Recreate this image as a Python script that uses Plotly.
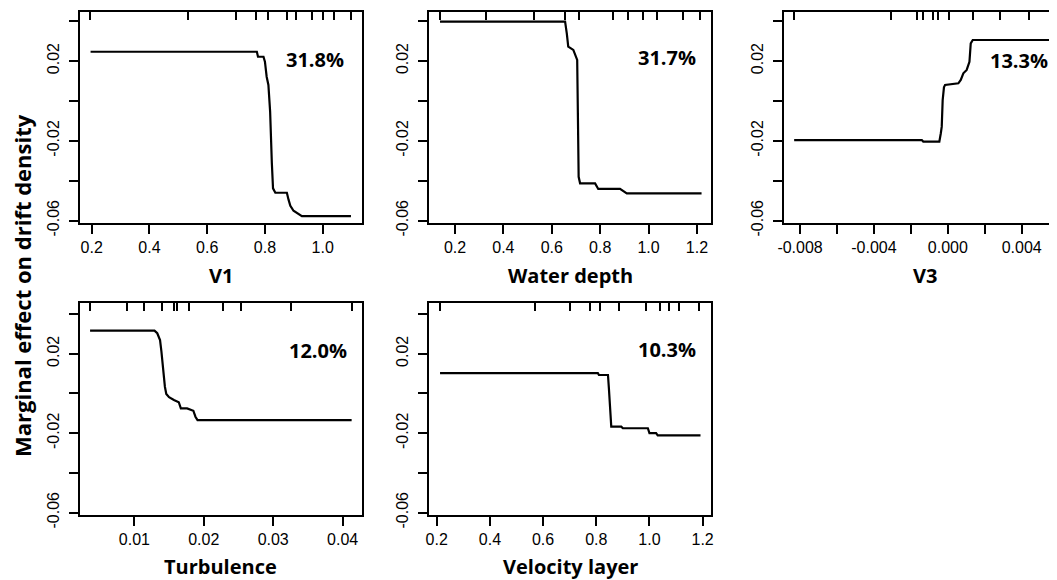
import plotly.graph_objects as go

# The page body adds an 8 px margin, so the figure is 8 px smaller and
# all positions below are given in page pixels.
OFF = 8
W, H = 1057 - OFF, 580 - OFF

# ---------------- data ----------------
v1_x = [0.196, 0.772, 0.776, 0.795, 0.800, 0.806, 0.812, 0.818, 0.824, 0.828, 0.836,
        0.876, 0.882, 0.888, 0.899, 0.917, 0.928, 1.098]
v1_y = [0.0246, 0.0246, 0.0221, 0.0221, 0.0196, 0.0121, 0.0080, -0.0054, -0.0313, -0.0438,
        -0.0460, -0.0460, -0.0496, -0.0525, -0.0550, -0.0568, -0.0577, -0.0577]
v1_rug = [0.1955, 0.534, 0.699, 0.768, 0.809, 0.878, 0.908, 0.963, 1.000, 1.040, 1.098]

wd_x = [0.138, 0.655, 0.662, 0.668, 0.689, 0.705, 0.708, 0.711, 0.717, 0.779, 0.792,
        0.882, 0.910, 1.219]
wd_y = [0.0397, 0.0397, 0.0338, 0.0272, 0.0255, 0.0205, -0.0081, -0.0380, -0.0413, -0.0413,
        -0.0441, -0.0441, -0.0463, -0.0463]
wd_rug = [0.138, 0.328, 0.525, 0.655, 0.714, 0.852, 0.914, 0.976, 1.033, 1.143, 1.211]

v3_x = [-0.00832, -0.00141, -0.00133, -0.00046, -0.00038, -0.00033, -0.00028, -0.00021,
        -0.00015, 0.00057, 0.00070, 0.00084, 0.00102, 0.00117, 0.00124, 0.00135, 0.00580]
v3_y = [-0.0196, -0.0196, -0.0204, -0.0204, -0.0162, -0.0129, 0.0004, 0.0068,
        0.0080, 0.0088, 0.0105, 0.0138, 0.0155, 0.0196, 0.0288, 0.0305, 0.0305]
v3_rug = [-0.00832, -0.00309, -0.00168, -0.00136, -0.00078, -0.00051, 0.00007,
          0.00138, 0.00283, 0.00441, 0.00580]

tu_x = [0.00362, 0.0129, 0.0133, 0.0137, 0.0139, 0.0142, 0.0144, 0.0146, 0.0150, 0.0157,
        0.0164, 0.0167, 0.0176, 0.0185, 0.0188, 0.0191, 0.0413]
tu_y = [0.0316, 0.0316, 0.0303, 0.0269, 0.0210, 0.0102, 0.0034, -0.0003, -0.0019, -0.0033,
        -0.0044, -0.0075, -0.0075, -0.0087, -0.0117, -0.0134, -0.0134]
tu_rug = [0.00362, 0.00894, 0.01135, 0.01391, 0.0157, 0.01618, 0.01787, 0.02271,
          0.02536, 0.03261, 0.0413]

vl_x = [0.2124, 0.806, 0.810, 0.844, 0.8475, 0.8527, 0.8564, 0.894, 0.900, 0.994, 1.000,
        1.025, 1.031, 1.192]
vl_y = [0.0102, 0.0102, 0.0093, 0.0093, 0.0026, -0.0108, -0.0167, -0.0167, -0.0175, -0.0175,
        -0.0200, -0.0200, -0.0211, -0.0211]
vl_rug = [0.2124, 0.571, 0.700, 0.775, 0.813, 0.884, 0.988, 1.038, 1.075, 1.110, 1.187]

names = ["V1", "Water depth", "V3", "Turbulence", "Velocity layer"]
importance = ["31.8%", "31.7%", "13.3%", "12.0%", "10.3%"]

y_ticks = [-0.06, -0.04, -0.02, 0.0, 0.02, 0.04]
y_labels = ["-0.06", "", "-0.02", "", "0.02", ""]

x_ticks = [
    [0.2, 0.4, 0.6, 0.8, 1.0],
    [0.2, 0.4, 0.6, 0.8, 1.0, 1.2],
    [-0.008, -0.006, -0.004, -0.002, 0.0, 0.002, 0.004, 0.006],
    [0.01, 0.02, 0.03, 0.04],
    [0.2, 0.4, 0.6, 0.8, 1.0, 1.2],
]
x_labels = [
    ["0.2", "0.4", "0.6", "0.8", "1.0"],
    ["0.2", "0.4", "0.6", "0.8", "1.0", "1.2"],
    ["-0.008", "", "-0.004", "", "0.000", "", "0.004", ""],
    ["0.01", "0.02", "0.03", "0.04"],
    ["0.2", "0.4", "0.6", "0.8", "1.0", "1.2"],
]

curves = [(v1_x, v1_y), (wd_x, wd_y), (v3_x, v3_y), (tu_x, tu_y), (vl_x, vl_y)]
rugs = [v1_rug, wd_rug, v3_rug, tu_rug, vl_rug]

# ---------------- layout geometry (page pixels) ----------------
px = lambda v: (v - OFF) / W
py = lambda v: 1 - (v - OFF) / H

col_dom = [(80, 361.7), (429.3, 711.0), (784, 1057)]
row_dom = [(12, 223), (303.3, 515)]
cells = [(0, 0), (0, 1), (0, 2), (1, 0), (1, 1)]
x_ranges = [(0.1594, 1.1352), (0.0938, 1.258), (-0.00887, 0.00591), (0.00217, 0.04275), (0.172, 1.2315)]
y_ranges = [(-0.06115, 0.04451), (-0.06116, 0.04538)]

tick_font = dict(family="Liberation Sans, Arial, sans-serif", size=16, color="black")
title_font = dict(family="Open Sans, sans-serif", size=20, color="black")

fig = go.Figure()
layout = dict(
    width=W, height=H,
    margin=dict(l=0, r=0, t=0, b=0, pad=0, autoexpand=False),
    paper_bgcolor="white", plot_bgcolor="white",
    showlegend=False,
    annotations=[],
)

for i in range(5):
    r, c = cells[i]
    n = i + 1
    xa = "xaxis" if n == 1 else f"xaxis{n}"
    ya = "yaxis" if n == 1 else f"yaxis{n}"
    xr = "x" if n == 1 else f"x{n}"
    yr = "y" if n == 1 else f"y{n}"
    cx0, cx1 = col_dom[c]
    ry0, ry1 = row_dom[r]

    fig.add_trace(go.Scatter(x=curves[i][0], y=curves[i][1], mode="lines",
                             line=dict(color="black", width=2.2), xaxis=xr, yaxis=yr,
                             hoverinfo="skip"))

    layout[xa] = dict(domain=[max(0, px(cx0)), min(1, px(cx1))], anchor=yr, range=list(x_ranges[i]),
                      showline=True, linecolor="black", linewidth=2, mirror=True,
                      ticks="outside", ticklen=9, tickwidth=2, tickcolor="black",
                      tickvals=x_ticks[i], ticktext=x_labels[i], tickfont=tick_font,
                      showgrid=False, zeroline=False, fixedrange=True, automargin=False)
    layout[ya] = dict(domain=[py(ry1), py(ry0)], anchor=xr, range=list(y_ranges[r]),
                      showline=True, linecolor="black", linewidth=2, mirror=(i != 2),
                      ticks="outside", ticklen=9, tickwidth=2, tickcolor="black",
                      tickvals=y_ticks, ticktext=y_labels, tickfont=tick_font, tickangle=-90,
                      ticklabelstandoff=4,
                      showgrid=False, zeroline=False, fixedrange=True, automargin=False)

    # rug axis on top
    m = n + 5
    rx = f"x{m}"
    fig.add_trace(go.Scatter(x=rugs[i], y=[0.0] * len(rugs[i]), mode="markers",
                             marker=dict(opacity=0, size=1), xaxis=rx, yaxis=yr,
                             hoverinfo="skip"))
    layout[f"xaxis{m}"] = dict(overlaying=xr, side="top", anchor=yr, range=list(x_ranges[i]),
                               tickvals=rugs[i], ticks="inside", ticklen=8, tickwidth=2,
                               tickcolor="black", showticklabels=False, showline=False,
                               showgrid=False, zeroline=False, fixedrange=True, automargin=False)

    # importance label
    pct_pos = [(315, 59), (666.7, 57.5), (1019.2, 60), (318.3, 350), (666.7, 349)][i]
    layout["annotations"].append(dict(text=f"<b>{importance[i]}</b>", x=px(pct_pos[0]), y=py(pct_pos[1]),
                                      xref="paper", yref="paper", showarrow=False,
                                      xanchor="center", yanchor="middle", font=title_font))
    # x axis title
    tx = [220.8, 570.2, 925, 220.8, 570.2][i]
    ty = [275, 275, 275, 566, 566][i]
    layout["annotations"].append(dict(text=f"<b>{names[i]}</b>", x=px(tx), y=py(ty),
                                      xref="paper", yref="paper", showarrow=False,
                                      xanchor="center", yanchor="middle", font=title_font))

layout["annotations"].append(dict(text="<b>Marginal effect on drift density</b>", x=px(22), y=py(286),
                                  xref="paper", yref="paper", showarrow=False, textangle=-90,
                                  xanchor="center", yanchor="middle",
                                  font=dict(family="Open Sans, sans-serif", size=22, color="black")))

fig.update_layout(**layout)
fig.write_html("out.html")
